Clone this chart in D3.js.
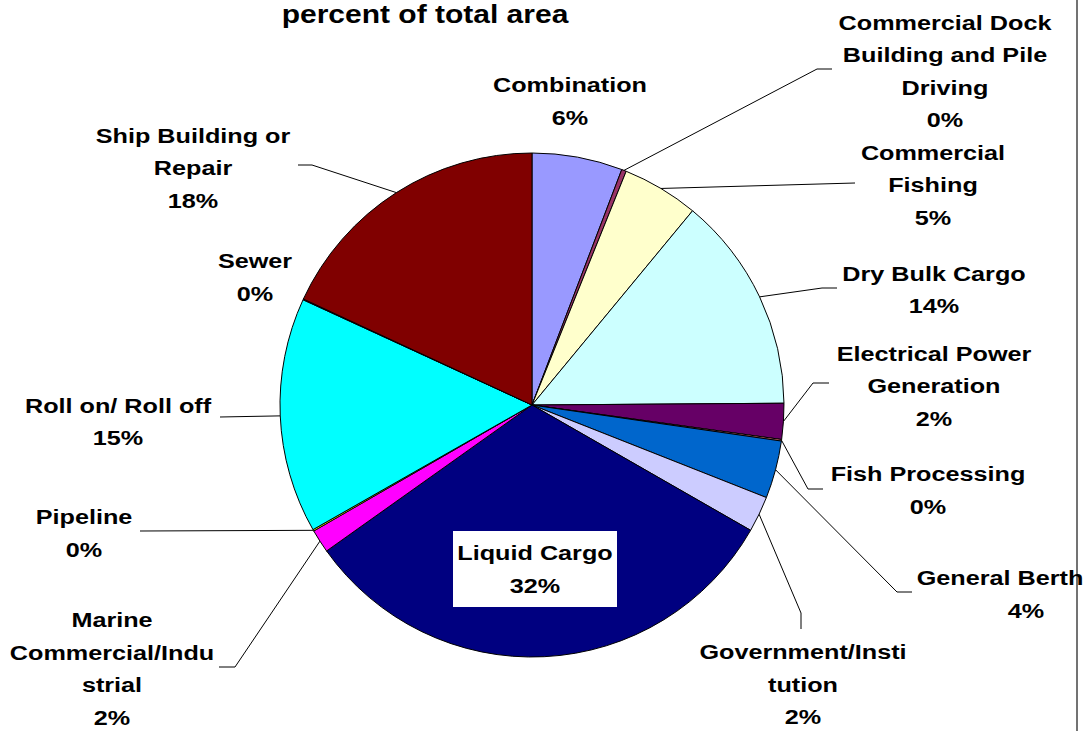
<!DOCTYPE html>
<html>
<head>
<meta charset="utf-8">
<script src="https://cdn.jsdelivr.net/npm/d3@7"></script>
<style>
  html, body { margin: 0; padding: 0; background: #fff; }
  svg { display: block; }
  text { font-family: "Liberation Sans", Arial, sans-serif; font-weight: bold; fill: #000; }
</style>
</head>
<body>
<svg id="chart" width="1092" height="731"></svg>
<script>
// ---- data ----
const categories = [
  "Combination", "Commercial Dock Building and Pile Driving", "Commercial Fishing",
  "Dry Bulk Cargo", "Electrical Power Generation", "Fish Processing", "General Berth",
  "Government/Institution", "Liquid Cargo", "Marine Commercial/Industrial", "Pipeline",
  "Roll on/ Roll off", "Sewer", "Ship Building or Repair"
];
const values = [5.8, 0.3, 4.9, 13.9, 2.3, 0.1, 3.7, 2.3, 31.9, 1.5, 0.1, 15.1, 0.05, 18.1];
const percentLabels = ["6%", "0%", "5%", "14%", "2%", "0%", "4%", "2%", "32%", "2%", "0%", "15%", "0%", "18%"];
// wrapped label text (as displayed)
const labelLines = [
  ["Combination"],
  ["Commercial Dock", "Building and Pile", "Driving"],
  ["Commercial", "Fishing"],
  ["Dry Bulk Cargo"],
  ["Electrical Power", "Generation"],
  ["Fish Processing"],
  ["General Berth"],
  ["Government/Insti", "tution"],
  ["Liquid Cargo"],
  ["Marine", "Commercial/Indu", "strial"],
  ["Pipeline"],
  ["Roll on/ Roll off"],
  ["Sewer"],
  ["Ship Building or", "Repair"]
];
const colors = ["#9999FF", "#993366", "#FFFFCC", "#CCFFFF", "#660066", "#FF8080", "#0066CC",
                "#CCCCFF", "#000080", "#FF00FF", "#FFFF00", "#00FFFF", "#800080", "#800000"];

// ---- layout ----
const W = 1092, H = 731;
const cx = 532, cy = 405, R = 252;
const fontSize = 21, stretch = 1.2, lineH = 32.5;
// label block: center x, first baseline y, optional per-line x overrides
const labelPos = [
  {x: 570, y: 92},
  {x: 945, y: 29.5},
  {x: 933, y: 159.5},
  {x: 934, y: 280.5},
  {x: 934, y: 360.5},
  {x: 928, y: 481},
  {x: 1000, y: 585, lx: [1000, 1026]},
  {x: 803, y: 659},
  {x: 535, y: 560, box: true},
  {x: 112, y: 627},
  {x: 84, y: 524},
  {x: 118, y: 412.5},
  {x: 255, y: 268},
  {x: 193, y: 142.5}
];
// leader lines: points after the slice edge point (elbow, end)
const leaders = [
  null,
  [[817, 69], [832, 69]],
  [[855, 183]],
  [[822, 288], [837, 288]],
  [[813, 383], [829, 383]],
  [[808, 489], [823, 489]],
  [[897, 592], [912, 592]],
  [[801, 613], [801, 629]],
  null,
  [[235, 667], [219, 667]],
  [[140, 531]],
  [[220, 417]],
  null,
  [[312, 165], [298, 165]]
];

const svg = d3.select("#chart");

// plot border line on right
svg.append("line")
  .attr("x1", 1077).attr("x2", 1077).attr("y1", 0).attr("y2", H)
  .attr("stroke", "#444").attr("stroke-width", 1.5);

// title
svg.append("text")
  .attr("transform", `translate(425,23) scale(${stretch},1)`)
  .attr("text-anchor", "middle")
  .style("font-size", "25px")
  .text("percent of total area");

const pie = d3.pie().sort(null).value(d => d).startAngle(0).endAngle(2 * Math.PI);
const arcs = pie(values);
const arc = d3.arc().innerRadius(0).outerRadius(R);

const g = svg.append("g").attr("transform", `translate(${cx},${cy})`);
g.selectAll("path")
  .data(arcs)
  .join("path")
  .attr("d", arc)
  .attr("fill", (d, i) => colors[i])
  .attr("stroke", "#000")
  .attr("stroke-width", 1)
  .attr("stroke-linejoin", "round");

// leader lines
const line = d3.line();
arcs.forEach((a, i) => {
  if (!leaders[i]) return;
  const mid = (a.startAngle + a.endAngle) / 2;
  const p0 = [cx + R * Math.sin(mid), cy - R * Math.cos(mid)];
  svg.append("path")
    .attr("d", line([p0, ...leaders[i]]))
    .attr("fill", "none")
    .attr("stroke", "#000")
    .attr("stroke-width", 1);
});

// labels
labelLines.forEach((lines, i) => {
  const pos = labelPos[i];
  const all = lines.concat([percentLabels[i]]);
  if (pos.box) {
    svg.append("rect")
      .attr("x", 453).attr("y", 531).attr("width", 164).attr("height", 76)
      .attr("fill", "#fff");
  }
  all.forEach((t, k) => {
    const x = pos.lx ? pos.lx[k] : pos.x;
    const y = pos.y + k * (pos.box ? 33 : lineH);
    svg.append("text")
      .attr("transform", `translate(${x},${y}) scale(${stretch},1)`)
      .attr("text-anchor", "middle")
      .style("font-size", fontSize + "px")
      .text(t);
  });
});
</script>
</body>
</html>
